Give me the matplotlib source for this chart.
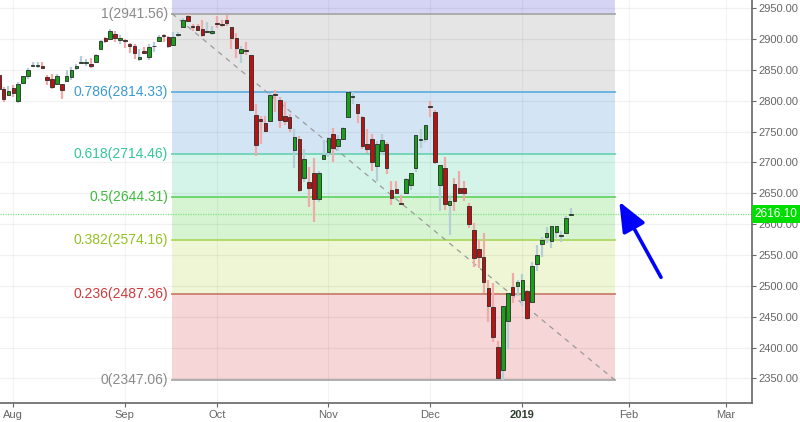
import numpy as np
import pandas as pd
import matplotlib
matplotlib.use("Agg")
import matplotlib.pyplot as plt

# ---------------- data ----------------
holidays = ["2018-09-03", "2018-11-22", "2018-12-05", "2018-12-25", "2019-01-01"]
opens = [2842.35, 2819.00, 2809.73,
         2821.17, 2800.48, 2829.62, 2840.29, 2855.92, 2856.79, 2857.19, 2838.90, 2835.46, 2827.88,
         2827.95, 2831.44, 2838.32, 2853.93, 2861.51, 2860.99, 2860.29, 2862.35, 2884.69, 2901.45,
         2900.62, 2908.94, 2898.37,
         2896.96, 2891.59, 2888.64, 2868.26, 2881.39, 2871.57, 2888.29, 2896.85, 2906.38, 2903.83,
         2890.74, 2906.60, 2919.73, 2936.76, 2921.83, 2921.75, 2916.98, 2911.65, 2910.03,
         2926.29, 2923.80, 2931.69, 2919.35, 2902.54, 2877.53, 2882.51, 2873.90, 2776.87, 2770.54,
         2763.83, 2767.05, 2811.67, 2802.00, 2775.66, 2773.94, 2721.03, 2737.87, 2674.88, 2667.86,
         2682.65, 2640.68, 2705.60,
         2717.58, 2745.45, 2726.37, 2738.40, 2774.13, 2806.38, 2794.10, 2773.93, 2730.05, 2737.90,
         2693.52, 2718.54, 2730.74, 2654.60, 2657.74, 2633.36, 2649.97, 2663.75, 2691.45, 2736.97,
         2737.76,
         2790.50, 2782.43, 2663.51, 2691.26, 2630.86, 2664.44, 2658.23, 2658.70, 2629.68, 2590.75,
         2559.90, 2547.05, 2496.77, 2465.38, 2400.56, 2363.12, 2442.50, 2498.77, 2498.94,
         2476.96, 2491.92, 2474.33, 2535.61, 2568.11, 2580.00, 2573.51, 2588.11, 2580.31, 2585.10,
         2614.75]
highs = [2843.17, 2821.74, 2824.46,
         2825.83, 2829.91, 2840.38, 2853.29, 2863.43, 2862.44, 2862.48, 2842.20, 2843.40, 2843.11,
         2827.95, 2850.49, 2855.63, 2859.76, 2873.23, 2867.54, 2868.78, 2876.16, 2898.25, 2903.77,
         2916.50, 2912.46, 2906.32,
         2900.18, 2894.21, 2892.05, 2883.81, 2886.93, 2892.52, 2894.65, 2906.76, 2908.30, 2904.65,
         2911.17, 2912.36, 2934.80, 2940.91, 2923.79, 2923.95, 2931.15, 2927.22, 2920.53,
         2937.06, 2931.42, 2939.86, 2919.78, 2909.64, 2889.45, 2894.83, 2874.02, 2795.14, 2775.77,
         2775.99, 2813.46, 2816.94, 2806.04, 2797.77, 2778.94, 2753.59, 2742.59, 2722.70, 2692.38,
         2706.85, 2685.43, 2736.69,
         2741.67, 2756.55, 2744.27, 2756.82, 2815.15, 2814.75, 2794.10, 2775.99, 2754.60, 2746.80,
         2735.38, 2746.75, 2733.16, 2669.44, 2670.73, 2647.55, 2674.35, 2682.53, 2744.00, 2753.75,
         2760.88,
         2800.18, 2785.93, 2696.15, 2708.54, 2647.51, 2674.35, 2685.44, 2670.19, 2635.07, 2601.13,
         2573.99, 2585.29, 2509.63, 2504.41, 2410.34, 2467.76, 2489.10, 2520.27, 2509.24,
         2519.49, 2493.14, 2538.07, 2566.16, 2579.82, 2595.32, 2597.82, 2596.27, 2589.32, 2613.08,
         2625.76]
lows = [2808.34, 2798.11, 2808.06,
        2805.85, 2796.34, 2827.37, 2835.98, 2855.92, 2853.09, 2851.98, 2825.81, 2819.88, 2826.58,
        2802.49, 2831.44, 2833.73, 2850.62, 2861.32, 2856.05, 2854.03, 2862.35, 2884.69, 2893.50,
        2898.40, 2895.22, 2891.73,
        2885.13, 2876.92, 2867.29, 2864.12, 2875.94, 2866.78, 2879.20, 2896.39, 2895.77, 2886.16,
        2890.43, 2903.82, 2919.73, 2927.11, 2912.63, 2913.70, 2903.28, 2909.27, 2907.50,
        2917.91, 2919.37, 2921.36, 2883.92, 2869.29, 2862.08, 2874.27, 2784.86, 2710.51, 2729.44,
        2749.03, 2766.91, 2781.81, 2755.18, 2760.27, 2749.22, 2691.43, 2651.89, 2667.84, 2628.16,
        2603.54, 2635.34, 2705.60,
        2708.85, 2700.44, 2717.94, 2737.08, 2774.13, 2794.99, 2764.24, 2722.00, 2714.98, 2685.75,
        2670.75, 2712.16, 2681.09, 2631.52, 2649.82, 2631.09, 2649.97, 2655.89, 2684.38, 2722.94,
        2732.76,
        2773.38, 2697.18, 2621.53, 2623.14, 2583.23, 2621.30, 2650.26, 2637.27, 2593.84, 2530.54,
        2528.71, 2488.96, 2441.18, 2408.55, 2351.10, 2346.58, 2397.94, 2472.89, 2482.82,
        2467.47, 2443.96, 2474.33, 2524.56, 2547.56, 2568.89, 2562.02, 2577.40, 2570.41, 2585.10,
        2612.68]
closes = [2818.82, 2802.60, 2816.29,
          2813.36, 2827.22, 2840.35, 2850.40, 2858.45, 2857.70, 2853.58, 2833.28, 2821.93, 2839.96,
          2818.37, 2840.69, 2850.13, 2857.05, 2862.96, 2861.82, 2856.98, 2874.69, 2896.74, 2897.52,
          2914.04, 2901.13, 2901.52,
          2896.72, 2888.60, 2878.05, 2871.68, 2877.13, 2887.89, 2888.92, 2904.18, 2904.98, 2888.80,
          2904.31, 2907.95, 2930.75, 2929.67, 2919.37, 2915.56, 2905.97, 2914.00, 2913.98,
          2924.59, 2923.43, 2925.51, 2901.61, 2885.57, 2884.43, 2880.34, 2785.68, 2728.37, 2767.13,
          2750.79, 2809.92, 2809.21, 2768.78, 2767.78, 2755.88, 2740.69, 2656.10, 2705.57, 2658.69,
          2641.25, 2682.63, 2711.74,
          2740.37, 2723.06, 2738.31, 2755.45, 2813.89, 2806.83, 2781.01, 2726.22, 2722.18, 2701.58,
          2730.20, 2736.27, 2690.73, 2641.89, 2649.93, 2632.56, 2673.45, 2682.17, 2743.79, 2737.80,
          2760.17,
          2790.37, 2700.06, 2695.95, 2633.08, 2637.72, 2636.78, 2651.07, 2650.54, 2599.95, 2545.94,
          2546.16, 2506.96, 2467.42, 2416.62, 2351.10, 2467.70, 2488.83, 2485.74, 2506.85,
          2510.03, 2447.89, 2531.94, 2549.69, 2574.41, 2584.96, 2596.64, 2596.26, 2582.61, 2610.30,
          2616.10]

fib_ratios = [1, 0.786, 0.618, 0.5, 0.382, 0.236, 0]
fib_levels = [2941.56, 2814.33, 2714.46, 2644.31, 2574.16, 2487.36, 2347.06]
last_price = 2616.10
y_ticks = [2350, 2400, 2450, 2500, 2550, 2600, 2650, 2700, 2750, 2800, 2850, 2900, 2950]
month_labels = ["Aug", "Sep", "Oct", "Nov", "Dec", "2019", "Feb", "Mar"]

# ---------------- dates / index axis ----------------
hist = pd.bdate_range("2018-07-27", "2019-01-16")
hist = hist[~hist.isin(pd.to_datetime(holidays))]
future = pd.bdate_range("2019-01-17", "2019-03-29")
all_dates = hist.append(future)
n = len(closes)
x = np.arange(n)
o = np.array(opens); h = np.array(highs); l = np.array(lows); c = np.array(closes)

month_key = all_dates.year * 12 + all_dates.month
first_idx = [i for i in range(1, len(all_dates)) if month_key[i] != month_key[i - 1]]
tick_pos = first_idx[:len(month_labels)]

# ---------------- figure ----------------
fig = plt.figure(figsize=(8.0, 4.22), dpi=100)
ax = fig.add_axes([0.0, 0.045, 0.9396, 0.955])
ax.set_xlim(0.257, 155.3)
ax.set_ylim(2310.0, 2963.5)

# grid (manual)
for yt in y_ticks:
    ax.axhline(yt, color=(0, 0, 0, 0.055), lw=0.9, zorder=1)
for tp in tick_pos:
    ax.axvline(tp, color=(0, 0, 0, 0.045), lw=0.9, zorder=1)

# fib retracement
fx0, fx1 = 35.73, 127.1
band_cols = ["#e5e5e5", "#d3e4f4", "#d4f4ea", "#d6f4d2", "#eef6d6", "#f6d6d6"]
line_cols = ["#a8a8a8", "#62b2e0", "#6cd4b4", "#66d466", "#acd862", "#c98070", "#a8a8a8"]
text_cols = ["#8a8a8a", "#3a9ad6", "#33c79a", "#3dbb3d", "#93c223", "#d03a3a", "#8a8a8a"]
ax.fill_between([fx0, fx1], fib_levels[0], 2963.5, color="#d6d4f4", zorder=0.5, lw=0)
for i in range(len(fib_levels) - 1):
    ax.fill_between([fx0, fx1], fib_levels[i + 1], fib_levels[i], color=band_cols[i],
                    zorder=0.5, lw=0)
for r, lv, lc, tc in zip(fib_ratios, fib_levels, line_cols, text_cols):
    ax.plot([fx0, fx1], [lv, lv], color=lc, lw=1.3, zorder=1.5)
    ax.annotate(f"{r:g}({lv:.2f})", xy=(fx0, lv), xytext=(-4, 0), textcoords="offset pixels",
                ha="right", va="center", color=tc, fontsize=10, family=["Liberation Sans"])
ax.plot([fx0, fx1], [fib_levels[0], fib_levels[-1]], color="#9a9a9a", lw=0.9,
        ls=(0, (4, 4)), zorder=1.6)

# current price line
ax.axhline(last_price, color="#7fe07f", lw=0.9, ls=(0, (1, 1)), zorder=1.7)

# candles
up = c >= o
wick_col = np.where(up, "#b5cfd6", "#f2a9a9")
ax.vlines(x, l, h, colors=wick_col, lw=1.6, zorder=2)
body_bot = np.minimum(o, c)
body_h = np.maximum(np.abs(c - o), 1.2)
body_col = np.where(up, "#18a018", "#bb1111")
ax.bar(x, body_h, bottom=body_bot, width=0.74, color=body_col, edgecolor="#2a2a2a",
       linewidth=0.6, zorder=3)

# blue arrow
ax.annotate("", xy=(128.0, 2636.4), xytext=(136.6, 2513.8),
            arrowprops=dict(arrowstyle="-|>,head_length=1.0,head_width=0.42", color="#0000ff",
                            lw=2.6, shrinkA=0, shrinkB=0, mutation_scale=18), zorder=5)

# axes styling
for s in ["left", "top"]:
    ax.spines[s].set_visible(False)
for s in ["right", "bottom"]:
    ax.spines[s].set_color("#666666")
    ax.spines[s].set_linewidth(1.2)
ax.yaxis.tick_right()
ax.set_yticks(y_ticks)
ax.set_yticklabels([f"{v:.2f}" for v in y_ticks])
ax.set_xticks(tick_pos)
ax.set_xticklabels(month_labels)
ax.tick_params(axis="y", colors="#666666", labelcolor="#666666", labelsize=8, length=3, pad=2)
ax.tick_params(axis="x", colors="#666666", labelcolor="#666666", labelsize=8, length=3, pad=2)
for lab in ax.get_yticklabels() + ax.get_xticklabels():
    lab.set_family(["Liberation Sans Narrow", "Liberation Sans"])
for lab in ax.get_xticklabels():
    if lab.get_text() == "2019":
        lab.set_fontweight("bold")
        lab.set_color("#2f3f2f")

# last price tag
ax.annotate(f"{last_price:.2f}", xy=(1, last_price), xycoords=("axes fraction", "data"),
            xytext=(3, 0), textcoords="offset pixels", ha="left", va="center",
            color="white", fontsize=8.5, family=["Liberation Sans"],
            bbox=dict(boxstyle="square,pad=0.25", fc="#00dd00", ec="none"),
            annotation_clip=False, zorder=6)

fig.savefig("out.png", dpi=100, facecolor="white")
